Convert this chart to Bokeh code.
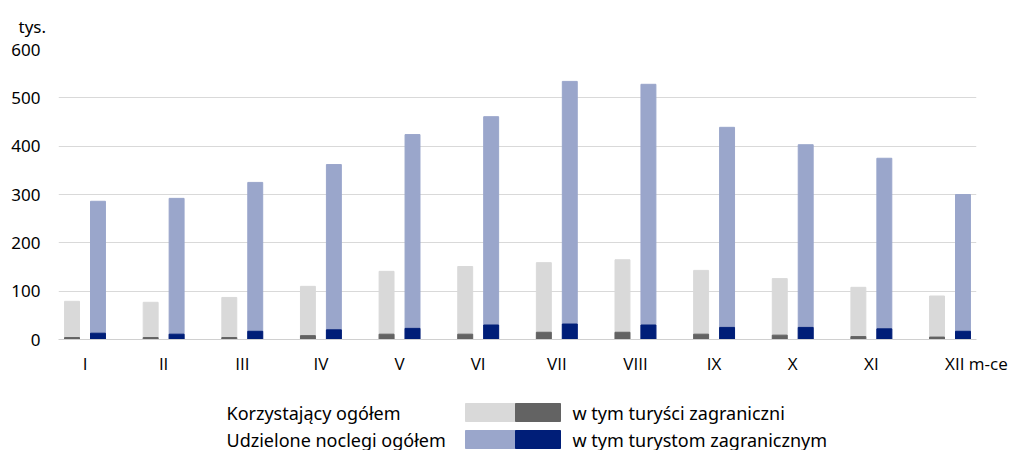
from bokeh.plotting import figure
from bokeh.models import Range1d, FixedTicker, ColumnDataSource
from bokeh.layouts import column
from bokeh.core.properties import value
from bokeh.embed import file_html
from bokeh.resources import INLINE

months = ["I", "II", "III", "IV", "V", "VI", "VII", "VIII", "IX", "X", "XI", "XII"]
korzystajacy = [79, 77, 87, 110, 141, 151, 159, 165, 143, 126, 108, 90]
korzystajacy_zagr = [4, 4, 4, 8, 11, 11, 15, 15, 11, 9, 6, 5]
noclegi = [286, 292, 325, 362, 424, 461, 534, 528, 439, 403, 375, 300]
noclegi_zagr = [13, 11, 17, 20, 23, 30, 32, 30, 25, 25, 22, 17]
y_ticks = [0, 100, 200, 300, 400, 500, 600]
y_unit = "tys."
x_unit = "m-ce"
legend_left = ["Korzystający ogółem", "Udzielone noclegi ogółem"]
legend_right = ["w tym turyści zagraniczni", "w tym turystom zagranicznym"]

FONT = "Noto Sans"
XFONT = "Open Sans"
C_LGRAY = "#D9D9D9"
C_DGRAY = "#636363"
C_LBLUE = "#9AA6CB"
C_DBLUE = "#001E78"

W = 1013
H1 = 385
H2 = 65
FL, FR = 58, 976          # frame left / right in canvas pixels
FT, FB = 49, 339          # frame top / bottom
X0, X1 = -0.337, 11.337

x = list(range(len(months)))
off = 0.165
w = 0.19
src = ColumnDataSource(dict(
    xg=[i - off for i in x], xb=[i + off for i in x],
    k=korzystajacy, kz=korzystajacy_zagr, n=noclegi, nz=noclegi_zagr))

p = figure(width=W, height=H1, output_backend="svg", toolbar_location=None,
           x_range=Range1d(X0, X1), y_range=Range1d(0, 600))
p.min_border_left = FL
p.min_border_right = W - FR
p.min_border_top = FT
p.min_border_bottom = H1 - FB
p.outline_line_color = None
p.background_fill_color = "white"
p.border_fill_color = "white"

# unit of the value axis shown as a left-aligned title above the frame
p.title.text = y_unit
p.title.align = "left"
p.title.vertical_align = "top"
p.title.offset = 18 - FL
p.title.standoff = 19
p.title.text_font = FONT
p.title.text_font_size = "17px"
p.title.text_font_style = "normal"
p.title.text_color = "#000000"

p.vbar(x="xg", top="k", bottom=0, width=w, color=C_LGRAY, source=src)
p.vbar(x="xg", top="kz", bottom=0, width=w, color=C_DGRAY, source=src)
p.vbar(x="xb", top="n", bottom=0, width=w, color=C_LBLUE, source=src)
p.vbar(x="xb", top="nz", bottom=0, width=w, color=C_DBLUE, source=src)

p.xgrid.grid_line_color = None
p.ygrid.grid_line_color = "#D9D9D9"
p.ygrid.grid_line_width = 1
p.ygrid.ticker = FixedTicker(ticks=y_ticks)

p.yaxis.ticker = FixedTicker(ticks=y_ticks)
p.yaxis.axis_line_color = None
p.yaxis.major_tick_line_color = None
p.yaxis.minor_tick_line_color = None
p.yaxis.major_tick_out = 0
p.yaxis.major_label_standoff = 18
p.yaxis.major_label_text_font = FONT
p.yaxis.major_label_text_font_size = "17px"
p.yaxis.major_label_text_color = "#000000"

# category labels; the last one carries the axis unit and is centred at the frame edge
last_tick = X1 - 0.001
x_ticks = x[:-1] + [last_tick]
overrides = {i: m for i, m in zip(x[:-1], months[:-1])}
overrides[last_tick] = months[-1] + " " + x_unit
p.xaxis.ticker = FixedTicker(ticks=x_ticks)
p.xaxis.major_label_overrides = overrides
p.xaxis.axis_line_color = "#D0D0D0"
p.xaxis.axis_line_width = 1
p.xaxis.major_tick_line_color = None
p.xaxis.minor_tick_line_color = None
p.xaxis.major_tick_out = 0
p.xaxis.major_label_standoff = 12
p.xaxis.major_label_text_font = XFONT
p.xaxis.major_label_text_font_size = "17px"
p.xaxis.major_label_text_color = "#000000"

# legend panel (data coordinates equal canvas pixels, y measured downward)
p2 = figure(width=W, height=H2, output_backend="svg", toolbar_location=None,
            x_range=Range1d(FL, FR), y_range=Range1d(H2, 0))
p2.min_border_left = FL
p2.min_border_right = W - FR
p2.min_border_top = 0
p2.min_border_bottom = 0
p2.axis.visible = False
p2.grid.visible = False
p2.outline_line_color = None

rows_y = [27, 54]
light = [C_LGRAY, C_LBLUE]
dark = [C_DGRAY, C_DBLUE]
for i in range(2):
    yc = rows_y[i]
    p2.quad(left=465, right=515, top=yc - 9, bottom=yc + 9, color=light[i])
    p2.quad(left=515, right=560, top=yc - 9, bottom=yc + 9, color=dark[i])
p2.text(x=[226, 226], y=rows_y, text=legend_left, text_font=value(FONT), text_font_size="18px",
        text_baseline="middle", text_align="left", text_color="#000000")
p2.text(x=[572, 572], y=rows_y, text=legend_right, text_font=value(FONT), text_font_size="18px",
        text_baseline="middle", text_align="left", text_color="#000000")

layout = column(p, p2, spacing=0)
open("out.html", "w").write(file_html(layout, INLINE))
